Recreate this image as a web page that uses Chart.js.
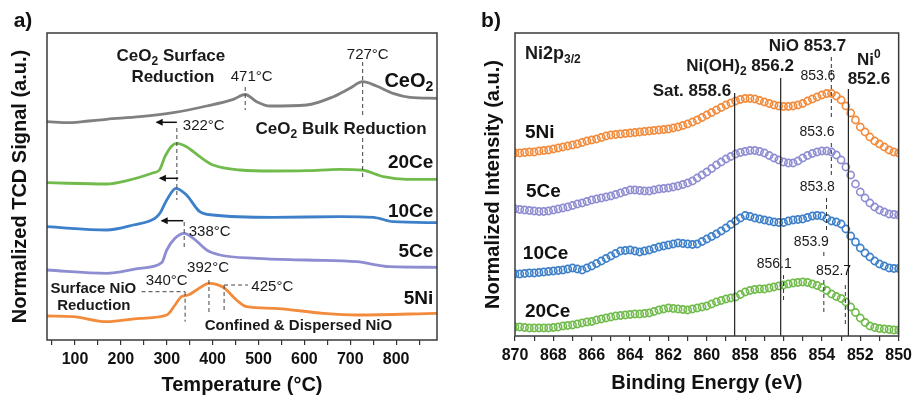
<!DOCTYPE html>
<html>
<head>
<meta charset="utf-8">
<script src="https://cdn.jsdelivr.net/npm/chart.js@4"></script>
<style>
  body { margin: 0; background: #fff; }
  #wrap { position: relative; width: 917px; height: 396px; }
  canvas { position: absolute; top: 0; }
  #tpr { left: 0; }
  #xps { left: 460px; }
</style>
</head>
<body>
<div id="wrap">
  <canvas id="tpr" width="460" height="396"></canvas>
  <canvas id="xps" width="457" height="396"></canvas>
</div>
<script>
// ---- a) TPR profiles (signal in a.u., curves stacked) ----
const tempTicks = [100, 200, 300, 400, 500, 600, 700, 800];
const tempMinorTicks = [50, 150, 250, 350, 450, 550, 650, 750, 850];

const ceo2Temp = [39, 89, 130, 169, 242, 314, 387, 445, 471, 496, 525, 605, 663, 699, 727, 757, 793, 830, 889];
const ceo2Signal = [218.3, 217.3, 219, 220.7, 223.3, 227.3, 234, 240.7, 245.5, 238.3, 234, 235, 243.3, 251.7, 258.3, 254, 246.7, 242.7, 241.7];

const ce20Temp = [39, 169, 213, 271, 284, 296, 311, 322, 343, 372, 401, 460, 532, 605, 677, 725, 772, 823, 889];
const ce20Signal = [157.3, 156, 159.3, 167.3, 170, 183.3, 194, 196.7, 193.3, 183.3, 175, 170, 169, 169.3, 170.7, 170, 163.3, 160.7, 160.7];

const ce10Temp = [39, 169, 227, 274, 285, 300, 320, 343, 372, 401, 532, 677, 750, 793, 889];
const ce10Signal = [113.3, 110, 115, 121.7, 126.7, 140, 151.7, 145, 128.3, 125, 122.7, 123.3, 122.7, 118.3, 117.3];

const ce5Temp = [39, 169, 242, 289, 300, 318, 338, 358, 387, 416, 496, 605, 714, 786, 889];
const ce5Signal = [70, 66.7, 71.7, 77.3, 90, 101.7, 106.7, 101.7, 90, 85, 81.7, 80, 78.3, 73.3, 72.7];

const ni5Temp = [39, 96, 169, 242, 300, 318, 332, 347, 365, 392, 423, 452, 474, 532, 641, 714, 889];
const ni5Signal = [24, 23.3, 18.3, 21.7, 25, 35, 43.3, 45, 50, 56.7, 52.7, 40, 33.3, 31.7, 26.7, 25, 26.7];

// ---- b) Ni2p3/2 XPS (normalized intensity, stacked), 870 -> 850 eV every 0.25 eV ----
const energyTicks = [870, 868, 866, 864, 862, 860, 858, 856, 854, 852, 850];
const energy = Array.from({ length: 81 }, (_, i) => 870 - i * 0.25);

const xps5Ni = [183, 183, 183.5, 184, 184, 185, 185.5, 186, 187, 188,
  189, 190, 191, 192, 193.5, 195, 196, 197, 198.5, 200,
  201, 201.5, 202, 202.5, 203, 203.5, 204, 204.5, 205, 205.5,
  206, 206.5, 207, 208, 209, 210.5, 212, 214, 216, 218.5,
  221, 223.5, 226, 228.5, 231, 233, 235, 236.5, 237.5, 237.5,
  237, 235.5, 234, 232.5, 231, 230, 229.5, 229.5, 230, 231,
  232.5, 235, 237, 239, 241, 242.5, 242.5, 240, 236, 230,
  223, 216, 209, 204, 199, 195, 192, 189, 186, 184, 183];

const xps5Ce = [127, 126.5, 126, 125.5, 125, 124.5, 124.5, 125, 126, 127,
  128, 129, 130.5, 132, 133, 134.5, 136, 137, 138, 139,
  140, 141.5, 143, 144.5, 146, 146, 145.5, 145, 145, 146,
  147, 147.5, 148, 149, 150, 151.5, 153, 155, 158, 161,
  164, 167.5, 171, 174, 177, 179.5, 182, 183.5, 184.5, 185.5,
  185.5, 184.5, 183, 180.5, 178, 176, 174, 173, 173, 175,
  178, 180.5, 182.5, 184, 185, 185, 184, 181, 176, 169,
  161, 152, 144, 138, 133, 129, 126, 124, 122, 121.5, 121];

const xps10Ce = [62, 62, 62.5, 63, 63, 63.5, 64, 64.5, 65, 65.5,
  66, 67, 68, 67, 66, 68, 70, 72.5, 75, 77.5,
  80, 82.5, 85, 85.5, 86, 85, 84, 85, 86, 87.5,
  89, 90, 91, 92, 93, 92.5, 92, 91.5, 92, 94.5,
  97, 99.5, 102, 105, 108, 111.5, 115, 118, 120.5, 119.5,
  118, 117, 116, 115, 114, 113.5, 113.5, 115, 116, 116.5,
  117, 118.5, 120, 120.5, 120, 117.5, 115, 114, 112, 107,
  100, 94, 88, 83, 79, 75, 72, 70, 68, 67.5, 67.5];

const xps20Ce = [9, 9, 8.5, 8, 8, 8, 8, 8, 8.5, 9,
  10, 10.5, 11, 12, 13, 14, 14.5, 16, 17, 18,
  19, 20, 20.5, 21, 21.5, 22, 22, 22.5, 23, 24.5,
  26, 27, 28, 27.5, 27, 26.5, 26, 27, 28, 29,
  30, 32, 34, 35.5, 37, 38, 39, 41.5, 44, 45.5,
  46.5, 47, 47, 48, 49, 50, 51, 52, 53, 53.5,
  54, 53.5, 52, 50.5, 48.5, 45.5, 42, 39.5, 37.5, 34,
  29, 23.5, 18, 13.5, 10, 8.5, 7.5, 7, 6.5, 6, 6];

const COLORS = { gray: '#808080', green: '#70bb4c', blue: '#3d80c9', purple: '#8f8dd2', orange: '#f28b3c' };
const FONT = '"Liberation Sans", Arial, sans-serif';

function pairs(xs, ys) {
    return xs.map((x, i) => ({ x: x, y: ys[i] }));
}

// text with optional sub/superscript pieces: ['CeO', ['2', 'sub']]
function richText(ctx, parts, px, py, align, size, weight, color) {
    const segs = (Array.isArray(parts) ? parts : [parts]).map(p =>
        typeof p === 'string' ? { t: p, m: '' } : { t: p[0], m: p[1] });
    const fontFor = m => `${weight} ${m ? Math.round(size * 0.68) : size}px ${FONT}`;
    let total = 0;
    segs.forEach(s => { ctx.font = fontFor(s.m); s.w = ctx.measureText(s.t).width; total += s.w; });
    let cx = align === 'center' ? px - total / 2 : align === 'right' ? px - total : px;
    ctx.fillStyle = color;
    ctx.textAlign = 'left';
    ctx.textBaseline = 'middle';
    segs.forEach(s => {
        ctx.font = fontFor(s.m);
        const dy = s.m === 'sub' ? size * 0.32 : s.m === 'sup' ? -size * 0.32 : 0;
        ctx.fillText(s.t, cx, py + dy);
        cx += s.w;
    });
}

function notesPlugin(lines, texts) {
    return {
        id: 'notes',
        afterDatasetsDraw(chart) {
            const { ctx, chartArea: a, scales: { x, y } } = chart;
            ctx.save();
            lines.forEach(l => {
                const x1 = x.getPixelForValue(l.x1), y1 = y.getPixelForValue(l.y1);
                const x2 = x.getPixelForValue(l.x2), y2 = y.getPixelForValue(l.y2);
                ctx.beginPath();
                ctx.setLineDash(l.dash ? [4, 3] : []);
                ctx.lineWidth = l.w || 1;
                ctx.strokeStyle = l.c || '#444';
                ctx.moveTo(x1, y1);
                ctx.lineTo(x2, y2);
                ctx.stroke();
                if (l.arrow) {
                    ctx.setLineDash([]);
                    ctx.fillStyle = l.c || '#111';
                    ctx.beginPath();
                    ctx.moveTo(x2 - 1, y2);
                    ctx.lineTo(x2 + 6, y2 - 3.5);
                    ctx.lineTo(x2 + 6, y2 + 3.5);
                    ctx.closePath();
                    ctx.fill();
                }
            });
            ctx.setLineDash([]);
            texts.forEach(t => {
                richText(ctx, t.s, x.getPixelForValue(t.x), y.getPixelForValue(t.y),
                    t.a || 'center', t.size || 15, t.bold ? 'bold' : 'normal', t.c || '#1a1a1a');
            });
            // box around the plot
            ctx.strokeStyle = '#3a3a3a';
            ctx.lineWidth = 1.5;
            ctx.strokeRect(a.left, a.top, a.right - a.left, a.bottom - a.top);
            ctx.restore();
        }
    };
}

const tprLines = [
    { x1: 471, y1: 253, x2: 471, y2: 230, dash: true },
    { x1: 727, y1: 278, x2: 727, y2: 224, dash: true },
    { x1: 727, y1: 202, x2: 727, y2: 163, dash: true },
    { x1: 322, y1: 212, x2: 322, y2: 140, dash: true },
    { x1: 338, y1: 118, x2: 338, y2: 90, dash: true },
    { x1: 245, y1: 48.3, x2: 340, y2: 48.3, dash: true },
    { x1: 340, y1: 48.3, x2: 340, y2: 18.3, dash: true },
    { x1: 392, y1: 60, x2: 392, y2: 25, dash: true },
    { x1: 425, y1: 55, x2: 477, y2: 55, dash: true },
    { x1: 425, y1: 55, x2: 425, y2: 28.3, dash: true },
    { x1: 322, y1: 217.7, x2: 278, y2: 217.7, arrow: true, w: 1.5, c: '#111' },
    { x1: 325, y1: 161.7, x2: 285, y2: 161.7, arrow: true, w: 1.5, c: '#111' },
    { x1: 336, y1: 119.3, x2: 289, y2: 119.3, arrow: true, w: 1.5, c: '#111' }
];

const tprTexts = [
    { s: ['CeO', ['2', 'sub'], ' Surface'], x: 309, y: 284, bold: true, size: 17 },
    { s: 'Reduction', x: 313.5, y: 263, bold: true, size: 17 },
    { s: '471°C', x: 485, y: 263 },
    { s: '727°C', x: 738, y: 285 },
    { s: ['CeO', ['2', 'sub']], x: 881, y: 259, a: 'right', bold: true, size: 20, c: '#111' },
    { s: '322°C', x: 335, y: 214, a: 'left' },
    { s: ['CeO', ['2', 'sub'], ' Bulk Reduction'], x: 680, y: 211, bold: true, size: 17 },
    { s: '20Ce', x: 881, y: 177, a: 'right', bold: true, size: 19, c: '#111' },
    { s: '10Ce', x: 881, y: 128.5, a: 'right', bold: true, size: 19, c: '#111' },
    { s: '338°C', x: 348, y: 108, a: 'left' },
    { s: '5Ce', x: 881, y: 88.5, a: 'right', bold: true, size: 19, c: '#111' },
    { s: '392°C', x: 390, y: 72 },
    { s: '340°C', x: 300, y: 59 },
    { s: '425°C', x: 530, y: 53 },
    { s: 'Surface NiO', x: 140, y: 51.5, bold: true, size: 15 },
    { s: 'Reduction', x: 141, y: 34, bold: true, size: 15 },
    { s: '5Ni', x: 881, y: 41.5, a: 'right', bold: true, size: 19, c: '#111' },
    { s: 'Confined & Dispersed NiO', x: 587, y: 14, bold: true, size: 15 }
];

const xpsLines = [
    { x1: 858.55, y1: 243, x2: 858.55, y2: 0, c: '#222', w: 1.2 },
    { x1: 856.15, y1: 258, x2: 856.15, y2: 0, c: '#222', w: 1.2 },
    { x1: 852.62, y1: 247, x2: 852.62, y2: 0, c: '#222', w: 1.2 },
    { x1: 853.51, y1: 279, x2: 853.51, y2: 216, dash: true, c: '#333' },
    { x1: 853.51, y1: 193, x2: 853.51, y2: 161, dash: true, c: '#333' },
    { x1: 853.76, y1: 138, x2: 853.76, y2: 104, dash: true, c: '#333' },
    { x1: 853.9, y1: 84, x2: 853.9, y2: 79, dash: true, c: '#333' },
    { x1: 853.9, y1: 56, x2: 853.9, y2: 21, dash: true, c: '#333' },
    { x1: 852.78, y1: 51, x2: 852.78, y2: 11, dash: true, c: '#333' },
    { x1: 856.0, y1: 61, x2: 856.0, y2: 33, dash: true, c: '#333' }
];

const xpsTexts = [
    { s: ['Ni2p', ['3/2', 'sub']], x: 869.48, y: 282, a: 'left', bold: true, size: 18 },
    { s: 'NiO 853.7', x: 854.75, y: 290, bold: true, size: 17 },
    { s: ['Ni', ['0', 'sup']], x: 851.55, y: 276, bold: true, size: 17 },
    { s: '852.6', x: 851.55, y: 257, bold: true, size: 17 },
    { s: ['Ni(OH)', ['2', 'sub'], ' 856.2'], x: 858.27, y: 270, bold: true, size: 17 },
    { s: '853.6', x: 854.21, y: 260, size: 14 },
    { s: 'Sat. 858.6', x: 860.78, y: 245, bold: true, size: 17 },
    { s: '5Ni', x: 869.48, y: 203.5, a: 'left', bold: true, size: 19, c: '#111' },
    { s: '853.6', x: 854.26, y: 203.5, size: 14 },
    { s: '5Ce', x: 869.43, y: 144.5, a: 'left', bold: true, size: 19, c: '#111' },
    { s: '853.8', x: 854.24, y: 148.5, size: 14 },
    { s: '10Ce', x: 869.59, y: 82, a: 'left', bold: true, size: 19, c: '#111' },
    { s: '853.9', x: 854.55, y: 93.5, size: 14 },
    { s: '856.1', x: 856.49, y: 72, size: 14 },
    { s: '852.7', x: 853.39, y: 65, size: 14 },
    { s: '20Ce', x: 869.48, y: 24.5, a: 'left', bold: true, size: 19, c: '#111' }
];

function lineSet(label, xs, ys, color) {
    return {
        label: label, data: pairs(xs, ys), borderColor: color, borderWidth: 2.8,
        pointRadius: 0, cubicInterpolationMode: 'monotone', fill: false
    };
}

function dotSet(label, ys, color) {
    return {
        label: label, data: pairs(energy, ys), showLine: false, borderColor: color,
        backgroundColor: 'rgba(255,255,255,0)', pointRadius: 3.6, pointBorderWidth: 1.6
    };
}

function axisX(min, max, ticksAll, labelled, reverse, height, titleText, titlePad, tickPad) {
    return {
        type: 'linear', min: min, max: max, reverse: reverse,
        afterBuildTicks: s => { s.ticks = ticksAll.map(v => ({ value: v })); },
        afterFit: s => { s.height = height; },
        ticks: {
            autoSkip: false, maxRotation: 0, padding: tickPad,
            color: '#111', font: { family: FONT, size: 16, weight: 'bold' },
            callback: v => labelled.includes(v) ? String(v) : ''
        },
        grid: { display: true, drawOnChartArea: false, drawTicks: true, tickLength: 5, color: '#333', lineWidth: 1.2 },
        border: { display: false },
        title: {
            display: true, text: titleText, color: '#111', padding: { top: 0, bottom: titlePad },
            font: { family: FONT, size: 20, weight: 'bold', lineHeight: 1 }
        }
    };
}

function axisY(max, width, titleText, titlePad) {
    return {
        type: 'linear', min: 0, max: max,
        afterFit: s => { s.width = width; },
        ticks: { display: false },
        grid: { display: false },
        border: { display: false },
        title: {
            display: true, text: titleText, color: '#111', padding: { top: titlePad, bottom: 0 },
            font: { family: FONT, size: 20, weight: 'bold', lineHeight: 1 }
        }
    };
}

// panel labels a) / b)
const panelLabel = (txt) => ({
    id: 'panelLabel',
    afterDraw(chart) {
        const ctx = chart.ctx;
        ctx.save();
        ctx.font = `bold 21px ${FONT}`;
        ctx.fillStyle = '#111';
        ctx.textAlign = 'center';
        ctx.textBaseline = 'middle';
        ctx.fillText(txt, chart.chartArea.left - 24, 21);
        ctx.restore();
    }
});

const common = {
    responsive: false, animation: false, devicePixelRatio: 1,
    plugins: { legend: { display: false }, tooltip: { enabled: false } }
};

new Chart(document.getElementById('tpr'), {
    type: 'line',
    data: {
        datasets: [
            lineSet('CeO2', ceo2Temp, ceo2Signal, COLORS.gray),
            lineSet('20Ce', ce20Temp, ce20Signal, COLORS.green),
            lineSet('10Ce', ce10Temp, ce10Signal, COLORS.blue),
            lineSet('5Ce', ce5Temp, ce5Signal, COLORS.purple),
            lineSet('5Ni', ni5Temp, ni5Signal, COLORS.orange)
        ]
    },
    options: Object.assign({}, common, {
        layout: { padding: { top: 33, right: 23, left: 0, bottom: 0 } },
        scales: {
            x: axisX(39, 889, tempMinorTicks.concat(tempTicks).sort((a, b) => a - b), tempTicks, false, 56,
                'Temperature (°C)', 1, 5),
            y: axisY(307, 47, 'Normalized TCD Signal (a.u.)', 10)
        }
    }),
    plugins: [notesPlugin(tprLines, tprTexts), panelLabel('a)')]
});

new Chart(document.getElementById('xps'), {
    type: 'scatter',
    data: {
        datasets: [
            dotSet('5Ni', xps5Ni, COLORS.orange),
            dotSet('5Ce', xps5Ce, COLORS.purple),
            dotSet('10Ce', xps10Ce, COLORS.blue),
            dotSet('20Ce', xps20Ce, COLORS.green)
        ]
    },
    options: Object.assign({}, common, {
        layout: { padding: { top: 33, right: 15, left: 0, bottom: 0 } },
        scales: {
            x: axisX(850, 870, [870, 869, 868, 867, 866, 865, 864, 863, 862, 861, 860, 859, 858, 857, 856, 855, 854, 853, 852, 851, 850],
                energyTicks, true, 60, 'Binding Energy (eV)', 3, 5),
            y: axisY(303, 55, 'Normalized Intensity (a.u.)', 23)
        }
    }),
    plugins: [notesPlugin(xpsLines, xpsTexts), panelLabel('b)')]
});
</script>
</body>
</html>
